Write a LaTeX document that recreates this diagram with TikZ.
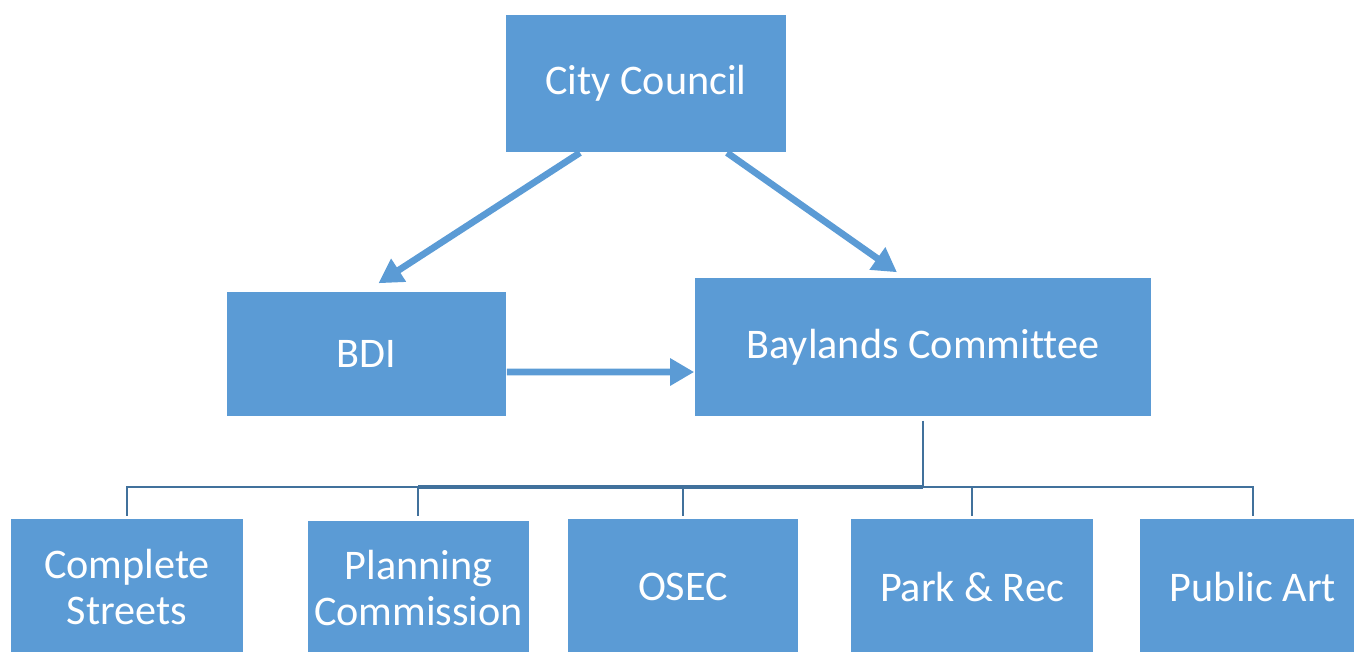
\documentclass[tikz,border=0pt]{standalone}
\usepackage{fontspec}
\setmainfont{Carlito}[Ligatures={NoCommon}]
\usetikzlibrary{arrows.meta, positioning}

\definecolor{boxblue}{HTML}{5B9BD5}
\definecolor{linkblue}{HTML}{41719C}

\begin{document}
\begin{tikzpicture}[x=0.01cm,y=-0.01cm,
  box/.style={fill=boxblue, draw=none, text=white, align=center,
    font=\fontsize{12}{13}\selectfont, inner sep=0pt},
  arrow/.style={boxblue, line width=1.9pt, -{Triangle[length=0.24cm,width=0.26cm]}},
  link/.style={linkblue, line width=0.75pt}]

\useasboundingbox (0,0) rectangle (1354,652);
\clip (0,0) rectangle (1354,652);

% Boxes
\node[box, minimum width=2.79cm, minimum height=1.37cm] (cc) at (646,83.5) {City Council};
\node[box, minimum width=2.79cm, minimum height=1.24cm] (bdi) at (366.5,354) {BDI};
\node[box, minimum width=4.56cm, minimum height=1.38cm] (bay) at (923,347) {Baylands Committee};

\node[box, minimum width=2.32cm, minimum height=1.36cm] (cs) at (127,587) {Complete\\Streets};
\node[box, minimum width=2.21cm, minimum height=1.34cm] (pc) at (418.5,588) {Planning\\Commission};
\node[box, minimum width=2.30cm, minimum height=1.36cm] (osec) at (683,587) {OSEC};
\node[box, minimum width=2.42cm, minimum height=1.36cm] (pr) at (972,587) {Park \& Rec};
\node[box, minimum width=2.26cm, minimum height=1.36cm] (pa) at (1253,587) {Public Art};

% Arrows
\draw[arrow] ([xshift=-0.66cm]cc.south) -- ([xshift=0.12cm,yshift=0.08cm]bdi.north);
\draw[arrow] ([xshift=0.81cm]cc.south) -- ([xshift=-0.26cm,yshift=0.05cm]bay.north);
\draw[arrow] ([yshift=-0.18cm]bdi.east) -- ([yshift=-0.25cm]bay.west);

% Tree links
\coordinate (bus) at (923,487);
\draw[link] ([yshift=-0.04cm]bay.south) -- (bus);
\draw[link, line width=1.1pt] (418,487) -- (bus);
\foreach \kid/\kx in {cs/127, pc/418, osec/683, pr/972, pa/1253} {
  \draw[link] (bus) -| (\kx,516);
}

\end{tikzpicture}
\end{document}
